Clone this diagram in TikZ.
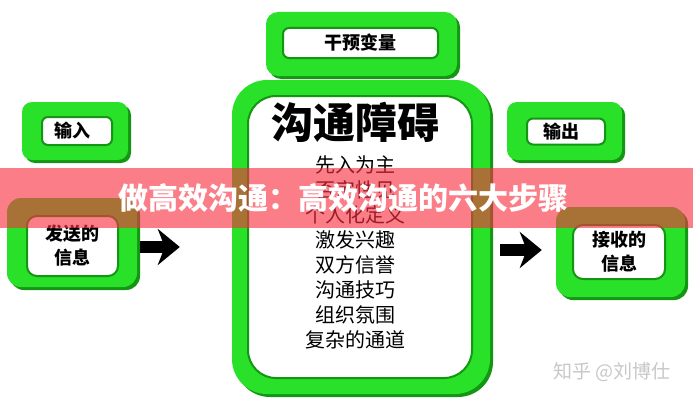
\documentclass[tikz,border=0pt]{standalone}
\usepackage{fontspec}
\newfontfamily\cjk{Noto Sans CJK SC}
\usetikzlibrary{arrows.meta, shadows, positioning}

\definecolor{gbright}{RGB}{40,225,40}
\definecolor{gdark}{RGB}{20,150,20}
\definecolor{banner}{RGB}{248,46,63}
\definecolor{wmark}{RGB}{200,200,200}

\tikzset{
  frame/.style={rectangle, rounded corners=#1, fill=gbright, inner sep=0pt,
    copy shadow={shadow xshift=3pt, shadow yshift=-3pt, fill=gdark, draw=none}},
  frame/.default=10pt,
  hole/.style={rectangle, rounded corners=#1, fill=white, draw=gdark, line width=2pt,
    inner sep=0pt, align=center, font=\cjk\bfseries\fontsize{18}{24}\selectfont},
  hole/.default=6pt,
  item/.style={font=\cjk\fontsize{20}{20}\selectfont, inner sep=0pt},
  barrow/.style={line width=12pt, -{Stealth[length=22pt, width=36pt, inset=7pt]}},
}

\begin{document}
\begin{tikzpicture}[x=1pt, y=1pt]
  \useasboundingbox (0,0) rectangle (693,400);
  \fill[white] (0,0) rectangle (693,400);

  % top box and jar
  \node[frame=12pt, minimum width=191pt, minimum height=64pt] (ivf) at (361.5,356) {};
  \node[hole, minimum width=155pt, minimum height=30pt] (iv) at (360.5,357) {干预变量};
  \node[frame=35pt, minimum width=258pt, minimum height=314pt] (jarf) at (361,163) {};
  \node[hole=28pt, minimum width=224pt, minimum height=282pt] (jar) at (360,163) {};
  \node[font=\cjk\bfseries\fontsize{42}{42}\selectfont] (title) at (355,278) {沟通障碍};
  \foreach \t [count=\i] in {先入为主, 否定性见, 个人化定义, 激发兴趣, 双方信誉, 沟通技巧, 组织氛围, 复杂的通道}
    \node[item] (b\i) at (355, {235-25*(\i-1)}) {\t};

  % left side
  \node[frame, minimum width=106pt, minimum height=58pt] (inf) at (75,269) {};
  \node[hole, minimum width=70pt, minimum height=28pt] (in) at (77,269) {输入\hspace{10pt}};
  \node[frame=14pt, minimum width=130pt, minimum height=89pt] (sendf) at (72,157.5) {};
  \node[hole=10pt, minimum width=91pt, minimum height=60pt] (send) at (72.5,154) {发送的\\信息};

  % right side
  \node[frame, minimum width=115pt, minimum height=58pt] (outf) at (564.5,269) {};
  \node[hole, minimum width=78pt, minimum height=26pt] (out) at (566,268.5) {输出\hspace{10pt}};
  \node[frame=14pt, minimum width=129pt, minimum height=90pt] (recvf) at (620.5,148) {};
  \node[hole=10pt, minimum width=92pt, minimum height=54pt] (recv) at (619,148) {接收的\\信息};

  % arrows
  \coordinate (ml) at (0,153);
  \coordinate (mr) at (0,150);
  \draw[barrow, shorten <=3pt, shorten >=52pt] (sendf.east |- ml) -- (jarf.west |- ml);
  \draw[barrow, shorten <=10pt, shorten >=14pt] (jarf.east |- mr) -- (recvf.west |- mr);

  % banner and mark
  \fill[banner, opacity=0.62] (0,172) rectangle (693,232);
  \node[font=\cjk\bfseries\fontsize{30}{30}\selectfont, text=white] (head) at (343,202) {做高效沟通：高效沟通的六大步骤};
  \node[text=wmark, font=\cjk\fontsize{19}{19}\selectfont] (wm) at (612,28) {知乎 @刘博仕};
\end{tikzpicture}
\end{document}
